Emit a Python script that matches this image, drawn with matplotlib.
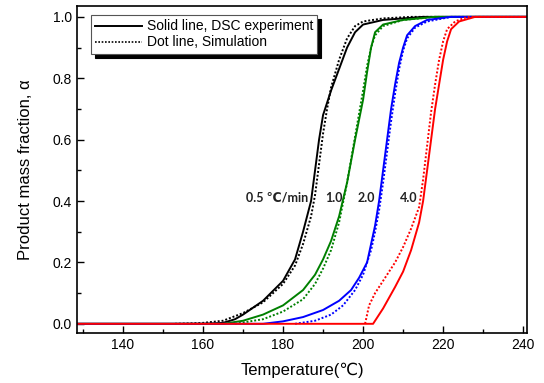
import numpy as np
import matplotlib.pyplot as plt

plt.rcParams['font.family'] = ['Liberation Sans', 'DejaVu Sans']

# experiment (solid) and simulation (dotted), temperature in C, alpha
t_05 = [128, 160, 165, 168, 170, 175, 180, 183, 185, 187, 188, 189, 190, 192, 194, 196, 198, 200, 205, 215, 241]
a_05 = [0, 0, 0.003, 0.015, 0.03, 0.075, 0.14, 0.21, 0.3, 0.4, 0.5, 0.6, 0.68, 0.76, 0.83, 0.9, 0.95, 0.975, 0.99, 1.0, 1.0]
ts_05 = [153, 160, 165, 170, 175, 180, 183, 185, 187, 188, 189, 190, 191, 192, 194, 196, 198, 200, 205, 212, 241]
as_05 = [0, 0.003, 0.01, 0.035, 0.07, 0.13, 0.19, 0.26, 0.35, 0.42, 0.52, 0.62, 0.7, 0.77, 0.86, 0.93, 0.97, 0.985, 0.995, 1.0, 1.0]

t_10 = [128, 165, 170, 175, 180, 185, 188, 190, 192, 194, 196, 198, 200, 201, 202, 203, 205, 210, 218, 241]
a_10 = [0, 0, 0.01, 0.03, 0.06, 0.11, 0.16, 0.21, 0.27, 0.35, 0.46, 0.6, 0.73, 0.82, 0.9, 0.95, 0.975, 0.99, 1.0, 1.0]
ts_10 = [168, 175, 180, 185, 188, 190, 192, 194, 196, 198, 200, 201, 202, 203, 205, 210, 218, 241]
as_10 = [0, 0.015, 0.04, 0.08, 0.13, 0.18, 0.24, 0.33, 0.46, 0.61, 0.76, 0.84, 0.9, 0.94, 0.97, 0.99, 1.0, 1.0]

t_20 = [128, 175, 180, 185, 190, 194, 197, 199, 201, 202, 203, 204, 205, 206, 207, 208, 209, 210, 211, 213, 216, 222, 241]
a_20 = [0, 0, 0.008, 0.022, 0.045, 0.075, 0.11, 0.15, 0.2, 0.26, 0.32, 0.4, 0.5, 0.6, 0.7, 0.78, 0.85, 0.9, 0.94, 0.97, 0.99, 1.0, 1.0]
ts_20 = [183, 188, 192, 195, 198, 200, 202, 203, 204, 205, 206, 207, 208, 209, 210, 211, 213, 216, 222, 241]
as_20 = [0, 0.01, 0.03, 0.06, 0.11, 0.16, 0.24, 0.3, 0.37, 0.46, 0.56, 0.66, 0.75, 0.83, 0.89, 0.93, 0.965, 0.985, 1.0, 1.0]

t_40 = [128, 202.5, 205, 208, 210, 212, 214, 215, 216, 217, 218, 219, 220, 221, 222, 224, 228, 241]
a_40 = [0, 0, 0.05, 0.12, 0.17, 0.24, 0.33, 0.4, 0.5, 0.6, 0.7, 0.78, 0.86, 0.92, 0.96, 0.985, 1.0, 1.0]
ts_40 = [200.5, 201.5, 203, 205, 208, 210, 212, 214, 215, 216, 217, 218, 219, 220, 221, 223, 226, 241]
as_40 = [0, 0.06, 0.1, 0.14, 0.2, 0.25, 0.31, 0.38, 0.47, 0.58, 0.69, 0.78, 0.86, 0.92, 0.96, 0.985, 1.0, 1.0]

rates = ['0.5 ℃/min', '1.0', '2.0', '4.0']
label_x = [186.2, 195.0, 203.0, 213.6]
colors = ['black', 'green', 'blue', 'red']

fig = plt.figure(figsize=(5.44, 3.83), dpi=100)
ax = fig.add_axes([0.1415, 0.1305, 0.8275, 0.8535])

solid = [(t_05, a_05), (t_10, a_10), (t_20, a_20), (t_40, a_40)]
dotted = [(ts_05, as_05), (ts_10, as_10), (ts_20, as_20), (ts_40, as_40)]
for (t, a), (ts, a_s), c in zip(solid, dotted, colors):
    ax.plot(ts, a_s, color=c, lw=1.4, ls=(0, (1, 1)))
    ax.plot(t, a, color=c, lw=1.4)

for txt, x in zip(rates, label_x):
    ax.text(x, 0.41, txt, ha='right', va='center', fontsize=9, fontweight='bold',
            color='#222222', family=['Lato', 'DejaVu Sans'])

h1, = ax.plot([], [], color='black', lw=1.4, label='Solid line, DSC experiment')
h2, = ax.plot([], [], color='black', lw=1.2, ls=(0, (1, 1)), label='Dot line, Simulation')
leg = ax.legend(handles=[h1, h2], loc='upper left', bbox_to_anchor=(0.022, 0.985),
                fontsize=10, frameon=True, fancybox=False, edgecolor='#555555',
                shadow={'color': 'black', 'alpha': 1, 'ox': 3, 'oy': -3},
                handlelength=3.4, handletextpad=0.3, borderpad=0.3, labelspacing=0.15,
                borderaxespad=0.3)
leg.get_frame().set_linewidth(0.8)

ax.set_xlim(128.5, 241)
ax.set_ylim(-0.03, 1.035)
ax.set_xticks(np.arange(140, 241, 20))
ax.set_xticks(np.arange(130, 241, 10), minor=True)
ax.set_yticks(np.arange(0, 1.01, 0.2))
ax.set_yticks(np.arange(0, 1.01, 0.1), minor=True)
ax.set_yticklabels(['0.0', '0.2', '0.4', '0.6', '0.8', '1.0'])
ax.tick_params(direction='in', length=5, width=1, labelsize=10, top=False, right=False)
ax.tick_params(which='minor', direction='in', length=3, width=1)
for s in ax.spines.values():
    s.set_linewidth(1.2)

ax.set_xlabel('Temperature(℃)', fontsize=12, labelpad=8)
ax.set_ylabel('Product mass fraction, α', fontsize=12, labelpad=14)

fig.savefig('out.png', dpi=100)
